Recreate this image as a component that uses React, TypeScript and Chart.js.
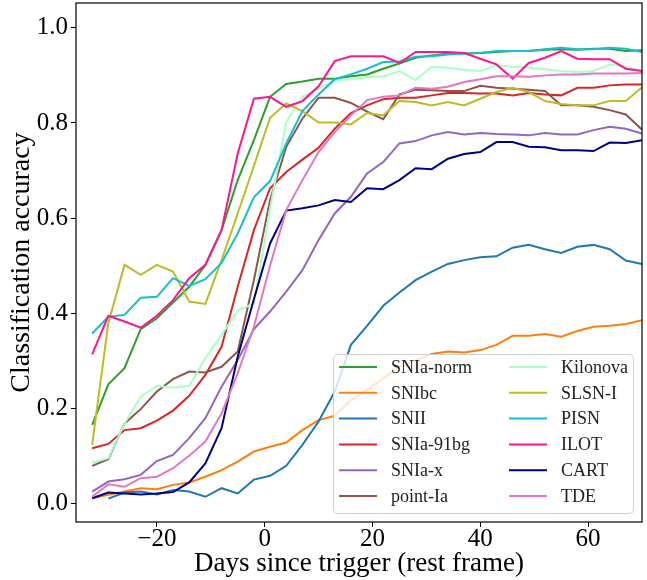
import React, { useEffect, useRef } from "react";
import { Chart, registerables } from "chart.js";

Chart.register(...registerables);

// Days since trigger (rest frame)
const days = [-32, -29, -26, -23, -20, -17, -14, -11, -8, -5, -2, 1, 4, 7, 10, 13, 16, 19, 22, 25, 28, 31, 34, 37, 40, 43, 46, 49, 52, 55, 58, 61, 64, 67, 70];

const snIaNorm = [0.166, 0.251, 0.285, 0.367, 0.390, 0.423, 0.456, 0.502, 0.575, 0.680, 0.764, 0.855, 0.882, 0.887, 0.893, 0.893, 0.898, 0.902, 0.914, 0.925, 0.937, 0.942, 0.946, 0.946, 0.947, 0.949, 0.951, 0.951, 0.954, 0.955, 0.954, 0.956, 0.956, 0.951, 0.953];
const snIbc = [0.012, 0.019, 0.026, 0.033, 0.031, 0.040, 0.045, 0.057, 0.071, 0.089, 0.110, 0.120, 0.129, 0.155, 0.176, 0.185, 0.218, 0.239, 0.264, 0.288, 0.302, 0.315, 0.320, 0.318, 0.323, 0.334, 0.353, 0.353, 0.357, 0.351, 0.363, 0.372, 0.374, 0.378, 0.386];
const snII = [null, 0.011, 0.024, 0.026, 0.020, 0.029, 0.026, 0.015, 0.033, 0.022, 0.051, 0.059, 0.080, 0.124, 0.173, 0.236, 0.334, 0.374, 0.416, 0.444, 0.470, 0.488, 0.504, 0.512, 0.518, 0.520, 0.538, 0.544, 0.535, 0.527, 0.540, 0.544, 0.535, 0.511, 0.504];
const snIa91bg = [0.117, 0.126, 0.155, 0.159, 0.175, 0.196, 0.227, 0.271, 0.330, 0.456, 0.575, 0.663, 0.697, 0.723, 0.748, 0.788, 0.821, 0.837, 0.850, 0.853, 0.853, 0.858, 0.863, 0.863, 0.862, 0.862, 0.858, 0.863, 0.860, 0.858, 0.874, 0.874, 0.879, 0.881, 0.881];
const snIaX = [0.026, 0.047, 0.052, 0.061, 0.090, 0.103, 0.138, 0.180, 0.246, 0.302, 0.367, 0.404, 0.446, 0.491, 0.554, 0.610, 0.645, 0.694, 0.718, 0.757, 0.762, 0.774, 0.781, 0.776, 0.779, 0.777, 0.776, 0.774, 0.779, 0.776, 0.776, 0.785, 0.792, 0.788, 0.778];
const pointIa = [0.080, 0.094, 0.169, 0.199, 0.236, 0.262, 0.278, 0.276, 0.288, 0.320, 0.470, 0.638, 0.750, 0.809, 0.853, 0.853, 0.842, 0.824, 0.808, 0.860, 0.870, 0.869, 0.867, 0.867, 0.878, 0.874, 0.872, 0.870, 0.867, 0.837, 0.837, 0.834, 0.827, 0.818, 0.786];
const kilonova = [0.087, 0.096, 0.169, 0.225, 0.248, 0.244, 0.248, 0.306, 0.355, 0.406, 0.421, 0.620, 0.802, 0.855, 0.872, 0.890, 0.892, 0.896, 0.898, 0.909, 0.890, 0.918, 0.916, 0.912, 0.909, 0.921, 0.918, 0.916, 0.913, 0.909, 0.907, 0.909, 0.923, 0.918, 0.909];
const slsnI = [0.124, 0.380, 0.502, 0.481, 0.502, 0.488, 0.425, 0.420, 0.512, 0.610, 0.710, 0.811, 0.841, 0.825, 0.801, 0.801, 0.797, 0.821, 0.816, 0.846, 0.844, 0.837, 0.844, 0.837, 0.851, 0.865, 0.874, 0.865, 0.846, 0.840, 0.837, 0.837, 0.846, 0.846, 0.875];
const pisn = [0.358, 0.393, 0.397, 0.433, 0.435, 0.474, 0.458, 0.472, 0.506, 0.568, 0.644, 0.678, 0.757, 0.825, 0.860, 0.892, 0.902, 0.914, 0.928, 0.929, 0.939, 0.940, 0.944, 0.946, 0.947, 0.951, 0.951, 0.951, 0.955, 0.958, 0.955, 0.955, 0.958, 0.956, 0.949];
const ilot = [0.314, 0.395, 0.383, 0.370, 0.395, 0.428, 0.474, 0.502, 0.575, 0.736, 0.851, 0.855, 0.834, 0.846, 0.877, 0.930, 0.940, 0.940, 0.940, 0.926, 0.949, 0.949, 0.949, 0.947, 0.935, 0.923, 0.893, 0.926, 0.937, 0.951, 0.935, 0.934, 0.934, 0.914, 0.909];
const cart = [0.012, 0.024, 0.022, 0.020, 0.022, 0.025, 0.045, 0.085, 0.159, 0.309, 0.430, 0.547, 0.616, 0.621, 0.627, 0.638, 0.634, 0.663, 0.661, 0.680, 0.705, 0.703, 0.725, 0.735, 0.739, 0.760, 0.760, 0.750, 0.749, 0.743, 0.743, 0.741, 0.759, 0.758, 0.764];
const tde = [0.015, 0.041, 0.036, 0.054, 0.057, 0.075, 0.101, 0.131, 0.190, 0.274, 0.372, 0.500, 0.617, 0.680, 0.739, 0.781, 0.816, 0.848, 0.855, 0.858, 0.874, 0.872, 0.876, 0.886, 0.892, 0.898, 0.898, 0.897, 0.900, 0.902, 0.902, 0.904, 0.904, 0.904, 0.905];

const seriesLabels = ["SNIa-norm", "SNIbc", "SNII", "SNIa-91bg", "SNIa-x", "point-Ia", "Kilonova", "SLSN-I", "PISN", "ILOT", "CART", "TDE"];
const seriesValues = [snIaNorm, snIbc, snII, snIa91bg, snIaX, pointIa, kilonova, slsnI, pisn, ilot, cart, tde];
const seriesColors = ["#2ca02c", "#ff7f0e", "#1f77b4", "#d62728", "#9467bd", "#8c564b", "#aaffc3", "#bcbd22", "#17becf", "#ff1493", "#000080", "#e377c2"];

const yTickValues = [0, 0.2, 0.4, 0.6, 0.8, 1.0];
const xTickValues = [-20, 0, 20, 40, 60];

const SERIF = "'Liberation Serif', 'DejaVu Serif', serif";

const framePlugin = {
  id: "frameAndLegend",
  afterDatasetsDraw(chart: any) {
    const { ctx, chartArea } = chart;
    ctx.save();
    // axes frame
    ctx.strokeStyle = "#000";
    ctx.lineWidth = 1.2;
    ctx.strokeRect(chartArea.left, chartArea.top, chartArea.right - chartArea.left, chartArea.bottom - chartArea.top);

    // legend box in lower right of the axes
    const bw = 300, bh = 159;
    const bx = chartArea.right - 9 - bw;
    const by = chartArea.bottom - 9 - bh;
    ctx.beginPath();
    (ctx as any).roundRect(bx + 0.5, by + 0.5, bw, bh, 4);
    ctx.fillStyle = "rgba(255,255,255,0.8)";
    ctx.fill();
    ctx.strokeStyle = "rgba(204,204,204,0.9)";
    ctx.lineWidth = 1;
    ctx.stroke();

    ctx.font = `18px ${SERIF}`;
    ctx.textBaseline = "middle";
    ctx.textAlign = "left";
    const datasets = chart.data.datasets;
    const perCol = Math.ceil(datasets.length / 2);
    datasets.forEach((ds: any, i: number) => {
      const col = Math.floor(i / perCol);
      const row = i % perCol;
      const lx = bx + 6 + col * 170;
      const ly = by + 13 + row * 25.8;
      ctx.strokeStyle = ds.borderColor;
      ctx.lineWidth = 2;
      ctx.beginPath();
      ctx.moveTo(lx, ly);
      ctx.lineTo(lx + 38, ly);
      ctx.stroke();
      ctx.fillStyle = "#222";
      ctx.fillText(ds.label, lx + 52, ly + 1);
    });
    ctx.restore();
  },
};

const zeroPad = (s: any) => {
  s.paddingTop = 0;
  s.paddingBottom = 0;
  s.paddingLeft = 0;
  s.paddingRight = 0;
};

export default function App() {
  const canvasRef = useRef<HTMLCanvasElement | null>(null);

  useEffect(() => {
    document.body.style.margin = "0";
    const canvas = canvasRef.current;
    if (!canvas) return;
    const n = seriesLabels.length;
    const datasets = seriesLabels.map((label, i) => ({
      label,
      data: days
        .map((d, j) => ({ x: d, y: seriesValues[i][j] }))
        .filter((p) => p.y !== null && p.y !== undefined),
      borderColor: seriesColors[i],
      backgroundColor: seriesColors[i],
      borderWidth: 2,
      pointRadius: 0,
      pointHoverRadius: 0,
      fill: false,
      tension: 0,
      order: n - i,
      clip: 0,
    }));

    const chart = new Chart(canvas, {
      type: "line",
      data: { datasets },
      plugins: [framePlugin],
      options: {
        animation: false,
        responsive: false,
        devicePixelRatio: 1,
        layout: { padding: { left: 0, right: 5, top: 3, bottom: 0 } },
        plugins: {
          legend: { display: false },
          tooltip: { enabled: false },
          title: { display: false },
        },
        scales: {
          x: {
            type: "linear",
            min: -35,
            max: 70,
            border: { display: false },
            grid: {
              display: true,
              drawOnChartArea: false,
              drawTicks: true,
              tickLength: 5,
              color: "#000",
              lineWidth: 1,
            },
            afterBuildTicks: (s: any) => {
              s.ticks = xTickValues.map((v) => ({ value: v }));
            },
            ticks: {
              autoSkip: false,
              maxRotation: 0,
              color: "#000",
              padding: -3,
              font: { family: SERIF, size: 25 },
              callback: (v: any) => (Number(v) < 0 ? "\u2212" + Math.abs(Number(v)) : String(v)),
            },
            title: {
              display: true,
              text: "Days since trigger (rest frame)",
              color: "#000",
              font: { family: SERIF, size: 27 },
              padding: { top: 0, bottom: 0 },
            },
            afterFit: (s: any) => {
              s.height = 58;
              zeroPad(s);
            },
          },
          y: {
            type: "linear",
            min: -0.038,
            max: 1.052,
            border: { display: false },
            grid: {
              display: true,
              drawOnChartArea: false,
              drawTicks: true,
              tickLength: 5,
              color: "#000",
              lineWidth: 1,
            },
            afterBuildTicks: (s: any) => {
              s.ticks = yTickValues.map((v) => ({ value: v }));
            },
            ticks: {
              autoSkip: false,
              color: "#000",
              padding: 3,
              font: { family: SERIF, size: 25 },
              callback: (v: any) => Number(v).toFixed(1),
            },
            title: {
              display: true,
              text: "Classification accuracy",
              color: "#000",
              font: { family: SERIF, size: 28 },
              padding: { top: 5, bottom: 0 },
            },
            afterFit: (s: any) => {
              s.width = 76;
              zeroPad(s);
            },
          },
        },
      },
    } as any);

    return () => {
      chart.destroy();
    };
  }, []);

  return (
    <div style={{ position: "absolute", left: 0, top: 0, width: 647, height: 580, background: "#fff" }}>
      <canvas ref={canvasRef} width={647} height={580} style={{ display: "block", width: 647, height: 580 }} />
    </div>
  );
}
